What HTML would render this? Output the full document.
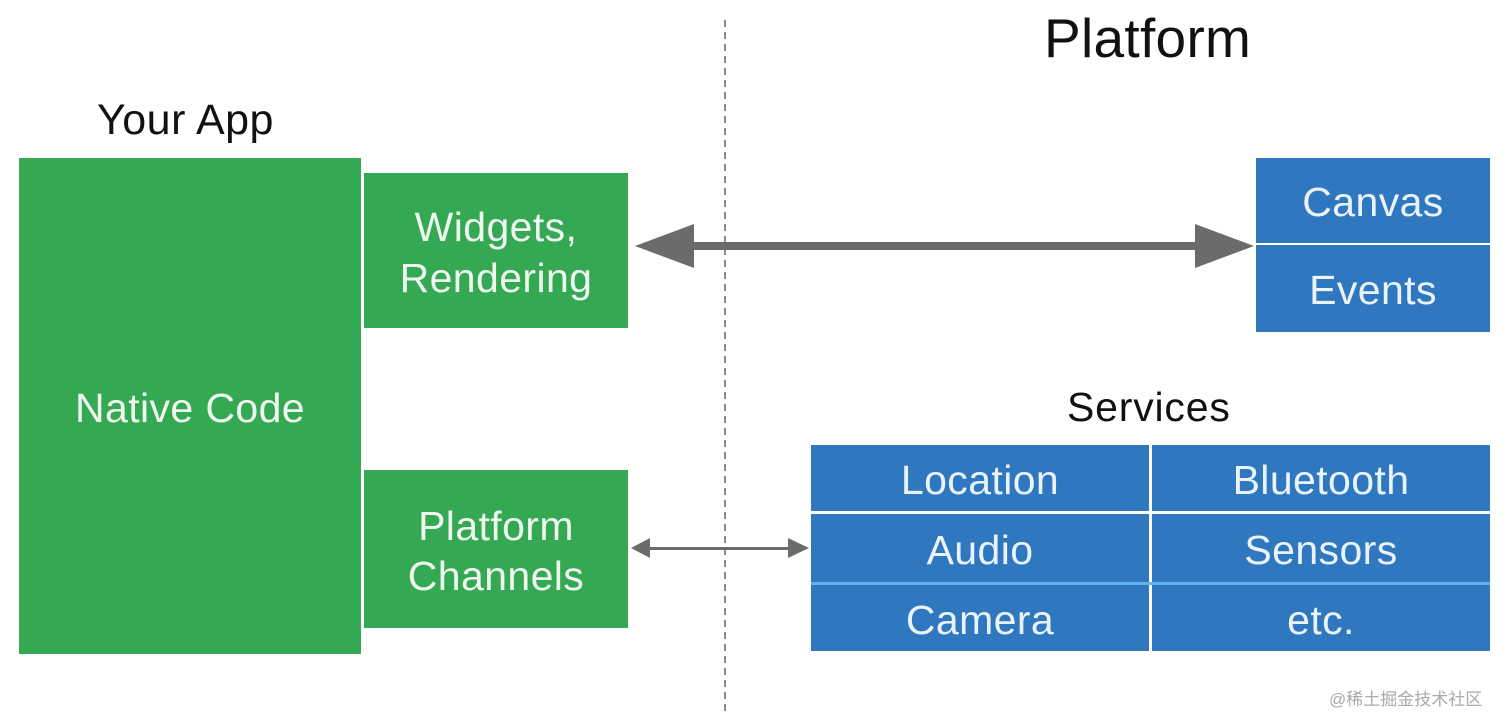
<!DOCTYPE html>
<html><head><meta charset="utf-8"><style>
body{margin:0;width:1512px;height:728px;background:#fff;position:relative;overflow:hidden;font-family:"Liberation Sans",Arial,sans-serif}
.b{position:absolute;display:flex;align-items:center;justify-content:center;text-align:center;color:#eef8ef;line-height:1.22;font-size:41px;letter-spacing:0.4px;padding-top:4px;box-sizing:border-box}
.g{background:#35a853}
.u{background:#2f78c0;color:#eaf3fb}
.t{position:absolute;color:#111;white-space:nowrap}
</style></head><body>
<svg width="1512" height="728" style="position:absolute;left:0;top:0">
<line x1="725" y1="20" x2="725" y2="716" stroke="#666" stroke-width="1.5" stroke-dasharray="7,5"/>
<rect x="680" y="242" width="530" height="8" fill="#6b6b6b"/>
<polygon points="635,246 694,224 694,268" fill="#6b6b6b"/>
<polygon points="1254,246 1195,224 1195,268" fill="#6b6b6b"/>
<rect x="645" y="547" width="150" height="3" fill="#6b6b6b"/>
<polygon points="631,548 650,538 650,558" fill="#6b6b6b"/>
<polygon points="809,548 788,538 788,558" fill="#6b6b6b"/>
</svg>
<div class="t" style="left:1044px;top:6px;font-size:55px;letter-spacing:0.3px">Platform</div>
<div class="t" style="left:97px;top:96px;font-size:43px;letter-spacing:0.5px">Your App</div>
<div class="t" style="left:1067px;top:384px;font-size:41px;letter-spacing:0.8px">Services</div>
<div class="b g" style="left:19px;top:158px;width:342px;height:496px">Native Code</div>
<div class="b g" style="left:364px;top:173px;width:264px;height:155px">Widgets,<br>Rendering</div>
<div class="b g" style="left:364px;top:470px;width:264px;height:158px">Platform<br>Channels</div>
<div class="b u" style="left:1256px;top:158px;width:234px;height:85px">Canvas</div>
<div class="b u" style="left:1256px;top:245px;width:234px;height:87px">Events</div>
<div class="b u" style="left:811px;top:445px;width:338px;height:66px">Location</div>
<div class="b u" style="left:1152px;top:445px;width:338px;height:66px">Bluetooth</div>
<div class="b u" style="left:811px;top:514px;width:338px;height:68px">Audio</div>
<div class="b u" style="left:1152px;top:514px;width:338px;height:68px">Sensors</div>
<div class="b u" style="left:811px;top:585px;width:338px;height:66px">Camera</div>
<div class="b u" style="left:1152px;top:585px;width:338px;height:66px">etc.</div>
<div style="position:absolute;left:811px;top:582px;width:679px;height:3px;background:#5fb3ea"></div>
<div class="t" style="left:1329px;top:685px;font-size:17px;color:#aaa;font-family:'Liberation Sans','Noto Sans CJK SC',sans-serif">@稀土掘金技术社区</div>
</body></html>
